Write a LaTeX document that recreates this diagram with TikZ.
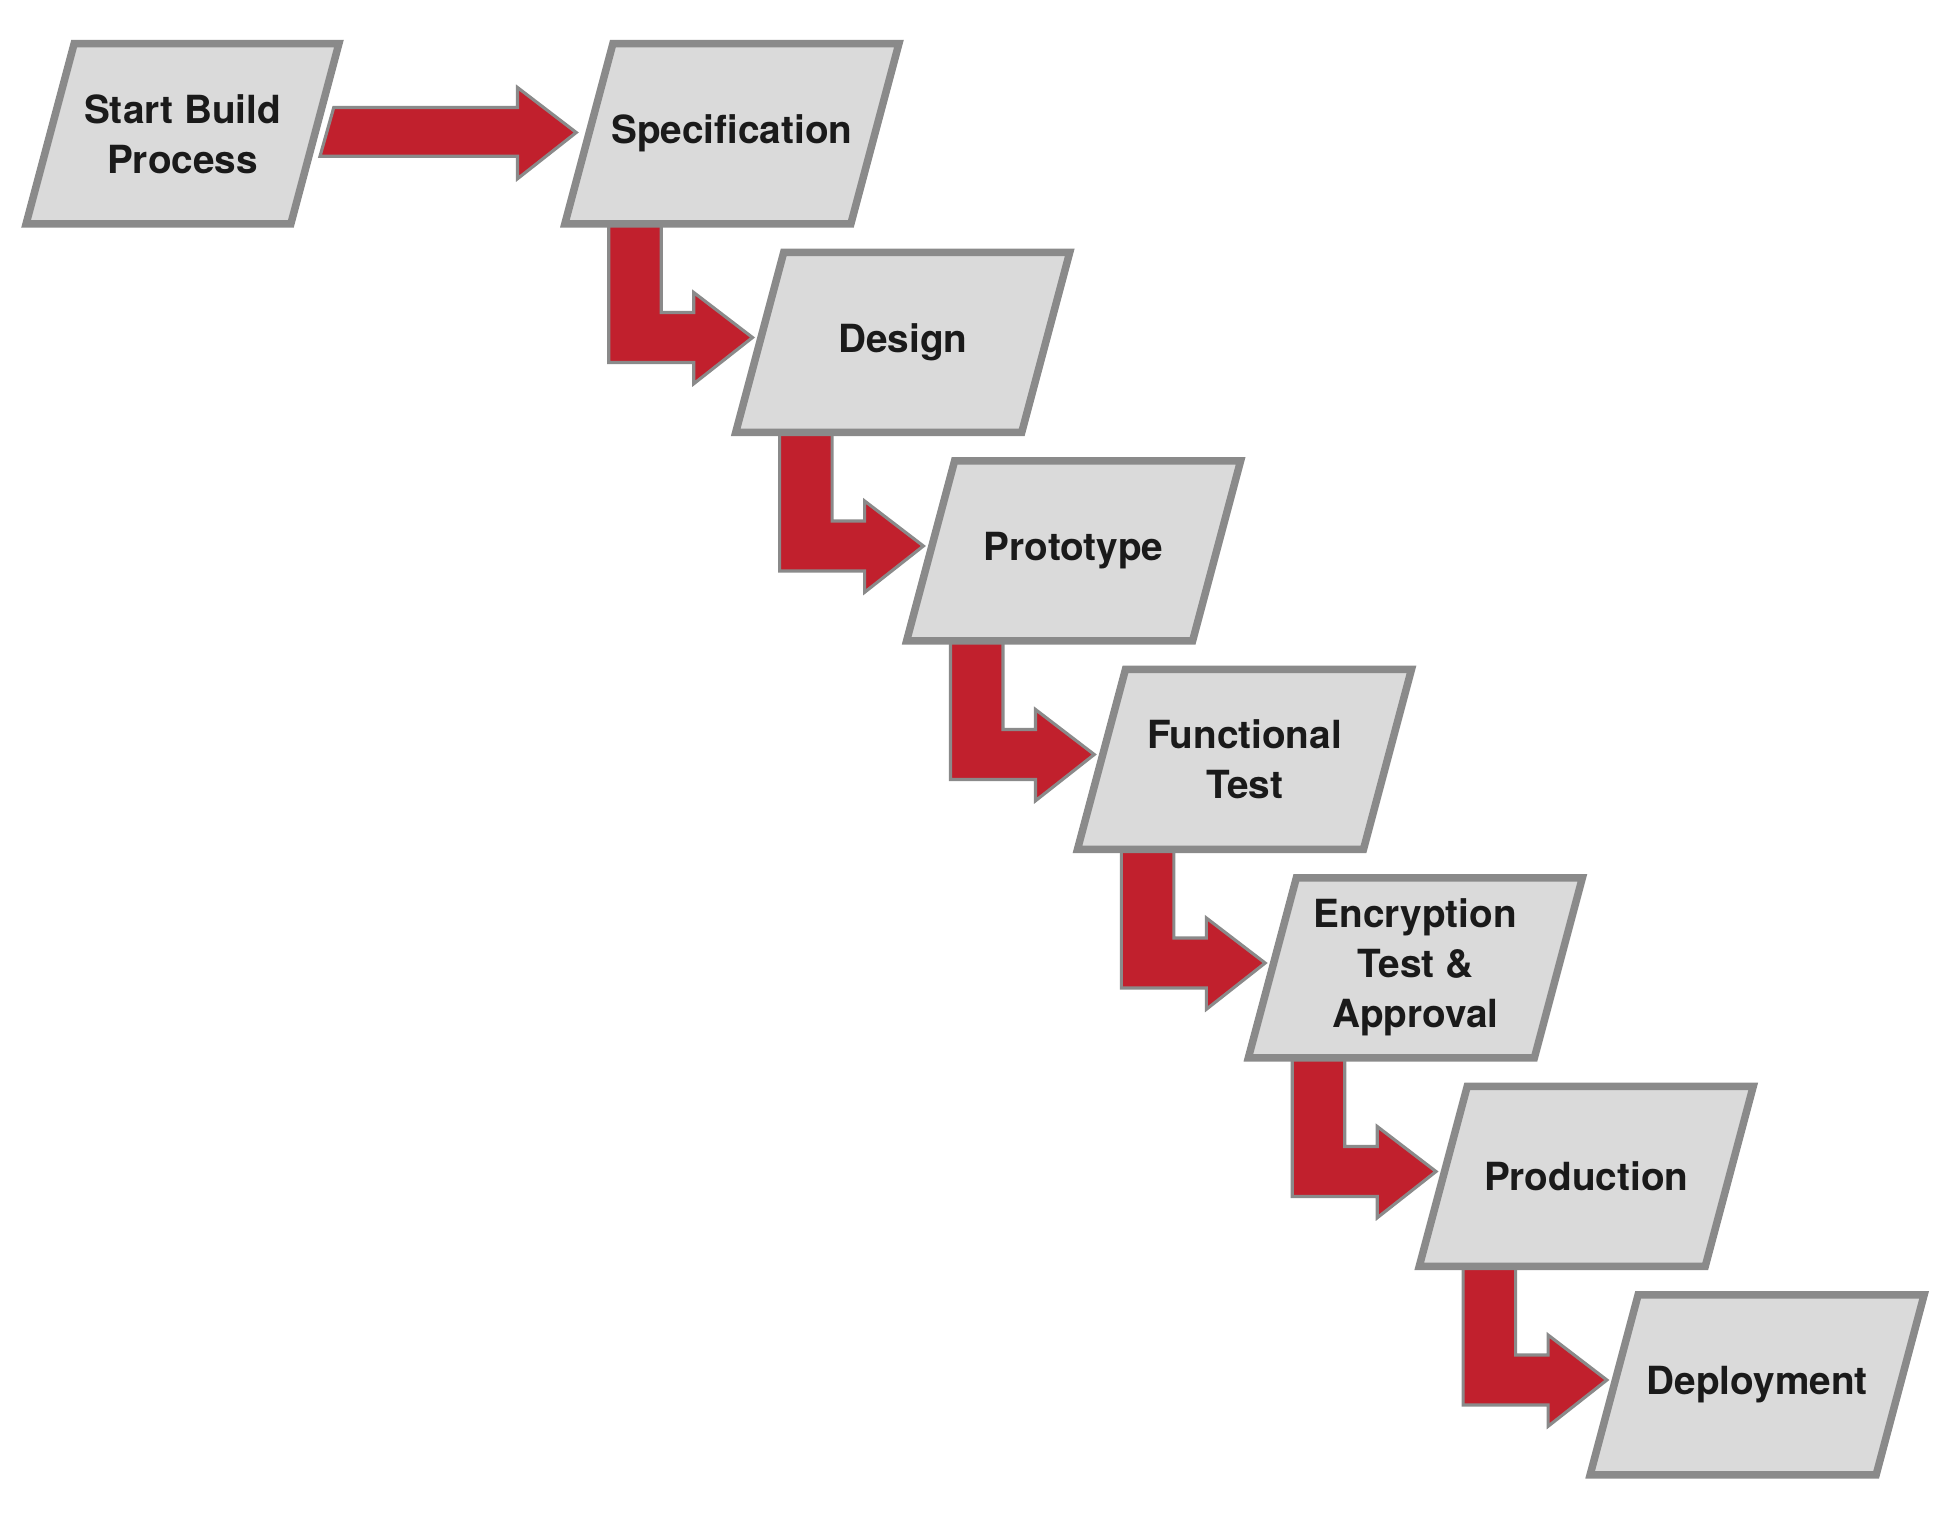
\documentclass[tikz,border=0pt]{standalone}
\usepackage{fontspec}
\setmainfont{TeX Gyre Heros}
\usetikzlibrary{calc}
\definecolor{boxfill}{HTML}{DADADA}
\definecolor{boxedge}{HTML}{8A8A8A}
\definecolor{arrred}{HTML}{C1202D}
\definecolor{txt}{HTML}{1A1A1A}
\tikzset{
  boxline/.style={draw=boxedge, fill=boxfill, line width=6pt, line join=miter},
  flowarrow/.style={draw=boxedge, fill=arrred, line width=2.5pt, line join=miter},
  stagetext/.style={text=txt, font=\fontsize{31}{40}\selectfont\bfseries, align=center, inner sep=0pt}
}
% #1 name, #2 width, #3 text  (box drawn from its bottom-left coordinate #1)
\newcommand{\stagebox}[3]{%
  \draw[boxline] ($(#1)+(3.9,-3)$) -- ($(#1)+(#2-2.3,-3)$) -- ($(#1)+(#2+36.1,-147)$) -- ($(#1)+(42.3,-147)$) -- cycle;
  \node[stagetext] (#1-t) at ($(#1)+(#2/2+20,-75)$) {#3};
}
% L-shaped block arrow leaving box #1 towards the next box
\newcommand{\stepflow}[1]{%
  \draw[flowarrow] ($(#1)+(39,-2)$) -- ($(#1)+(81,-2)$) -- ($(#1)+(81,68)$) -- ($(#1)+(107,68)$) -- ($(#1)+(107,52)$) -- ($(#1)+(154,88)$) -- ($(#1)+(107,125)$) -- ($(#1)+(107,108)$) -- ($(#1)+(39,108)$) -- cycle;
}
\begin{document}
\begin{tikzpicture}[x=1pt,y=-1pt]
\useasboundingbox (0,0) rectangle (1560,1209.6);
% bottom-left outer corners of the stages
\coordinate (s1) at (17,182);
\coordinate (s2) at (448,182);
\coordinate (s3) at (584.7,348.8);
\coordinate (s4) at (721.4,515.6);
\coordinate (s5) at (858.1,682.4);
\coordinate (s6) at (994.8,849.2);
\coordinate (s7) at (1131.5,1016);
\coordinate (s8) at (1268.2,1182.8);
% arrows
\draw[flowarrow] ($(s1)+(250,-96)$) -- ($(s1)+(397,-96)$) -- ($(s1)+(397,-112)$) -- ($(s1)+(444,-76)$) -- ($(s1)+(397,-39)$) -- ($(s1)+(397,-57)$) -- ($(s1)+(239,-57)$) -- cycle;
\stepflow{s2}
\stepflow{s3}
\stepflow{s4}
\stepflow{s5}
\stepflow{s6}
\stepflow{s7}
% stages
\stagebox{s1}{218}{Start Build\\Process}
\stagebox{s2}{235}{Specification}
\stagebox{s3}{235}{Design}
\stagebox{s4}{235}{Prototype}
\stagebox{s5}{235}{Functional\\Test}
\stagebox{s6}{235}{Encryption\\Test \&\\Approval}
\stagebox{s7}{235}{Production}
\stagebox{s8}{235}{Deployment}
\end{tikzpicture}
\end{document}
